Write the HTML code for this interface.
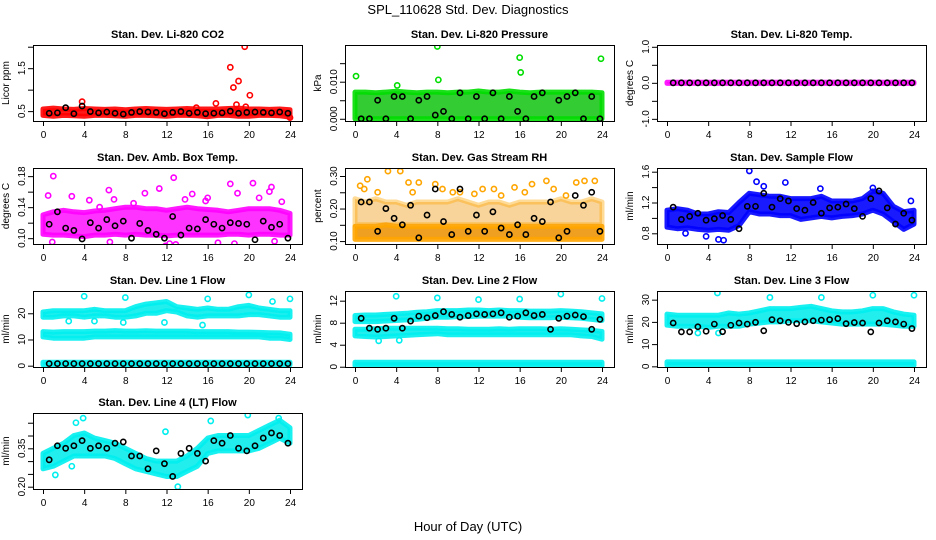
<!DOCTYPE html>
<html><head><meta charset="utf-8"><style>
html,body{margin:0;padding:0;background:#fff;}
svg{display:block;font-family:"Liberation Sans",sans-serif;}
</style></head><body>
<svg id="fig" width="936" height="540" viewBox="0 0 936 540">
<text x="468" y="14" text-anchor="middle" font-size="13">SPL_110628  Std. Dev. Diagnostics</text>
<text x="468" y="531" text-anchor="middle" font-size="13">Hour of Day (UTC)</text>
</svg>
<script>
const hours = [0,1,2,3,4,5,6,7,8,9,10,11,12,13,14,15,16,17,18,19,20,21,22,23,24];
const xTicks = [0,4,8,12,16,20,24];
const blackHours = [0.6,1.4,2.2,3.0,3.8,4.6,5.4,6.2,7.0,7.8,8.6,9.4,10.2,11.0,11.8,12.6,13.4,14.2,15.0,15.8,16.6,17.4,18.2,19.0,19.8,20.6,21.4,22.2,23.0,23.8];

// CO2
const co2Lo = [0.40,0.38,0.40,0.39,0.38,0.40,0.40,0.39,0.38,0.40,0.40,0.39,0.38,0.40,0.40,0.39,0.37,0.40,0.40,0.38,0.38,0.40,0.40,0.39,0.36];
const co2Hi = [0.55,0.57,0.55,0.54,0.56,0.55,0.54,0.55,0.53,0.55,0.56,0.55,0.54,0.55,0.56,0.55,0.55,0.55,0.56,0.57,0.55,0.55,0.54,0.55,0.53];
const co2Black = [0.45,0.46,0.58,0.44,0.62,0.49,0.46,0.48,0.45,0.43,0.47,0.49,0.48,0.47,0.44,0.47,0.49,0.45,0.47,0.44,0.45,0.46,0.50,0.45,0.47,0.48,0.47,0.46,0.48,0.45];
const co2OutX = [3.8,14.9,16.8,18.2,18.5,18.8,19.0,19.6,19.7,20.1,24.0];
const co2OutY = [0.72,0.58,0.68,1.52,1.05,0.65,1.20,2.00,0.60,0.87,0.35];
// Pressure
const presLo = [0,0,0,0,0,0,0,0,0,0,0,0,0,0,0,0,0,0,0,0,0,0,0,0,0];
const presHi = [0.0072,0.0072,0.0070,0.0072,0.0074,0.0072,0.0070,0.0072,0.0072,0.0070,0.0072,0.0072,0.0075,0.0072,0.0072,0.0075,0.0072,0.0070,0.0072,0.0072,0.0072,0.0072,0.0072,0.0072,0.0070];
const presBlack = [0.0,0.0,0.005,0.0,0.006,0.006,0.0,0.005,0.006,0.001,0.002,0.0,0.007,0.0,0.006,0.0,0.007,0.0,0.006,0.002,0.0,0.006,0.007,0.0,0.005,0.006,0.007,0.0,0.006,0.0];
const presOutX = [0.1,4.1,8.0,8.1,16.0,16.1,23.9];
const presOutY = [0.0115,0.009,0.0195,0.0105,0.0165,0.0125,0.0162];
// Temp
const tempLo = [-0.015,-0.015,-0.015,-0.015,-0.015,-0.015,-0.015,-0.015,-0.015,-0.015,-0.015,-0.015,-0.015,-0.015,-0.015,-0.015,-0.015,-0.015,-0.015,-0.015,-0.015,-0.015,-0.015,-0.015,-0.015];
const tempHi = [0.015,0.015,0.015,0.015,0.015,0.015,0.015,0.015,0.015,0.015,0.015,0.015,0.015,0.015,0.015,0.015,0.015,0.015,0.015,0.015,0.015,0.015,0.015,0.015,0.015];
const tempBlack = [0,0,0,0,0,0,0,0,0,0,0,0,0,0,0,0,0,0,0,0,0,0,0,0,0,0,0,0,0,0];
// Ambient box temp
const ambLo = [0.105,0.104,0.104,0.103,0.102,0.104,0.104,0.105,0.104,0.105,0.104,0.104,0.103,0.104,0.104,0.104,0.104,0.104,0.105,0.105,0.104,0.105,0.105,0.104,0.104];
const ambHi = [0.130,0.134,0.136,0.134,0.133,0.135,0.136,0.138,0.140,0.140,0.138,0.138,0.136,0.138,0.140,0.138,0.137,0.136,0.134,0.136,0.138,0.138,0.138,0.136,0.132];
const ambBlack = [0.118,0.134,0.113,0.110,0.099,0.120,0.113,0.124,0.116,0.122,0.100,0.119,0.110,0.105,0.100,0.128,0.104,0.113,0.112,0.124,0.118,0.113,0.120,0.119,0.118,0.098,0.122,0.114,0.118,0.100];
const ambOutX = [0.5,1.0,2.8,4.5,6.4,6.9,9.9,11.3,12.7,13.8,14.5,16.0,18.2,18.9,20.4,21.0,22.0,22.2,23.2,0.9,6.5,11.9,12.3,12.9,17.0,18.6,22.5,5.5,8.8,15.8];
const ambOutY = [0.155,0.180,0.154,0.149,0.162,0.150,0.158,0.164,0.178,0.150,0.157,0.152,0.170,0.158,0.171,0.152,0.160,0.166,0.147,0.095,0.095,0.090,0.093,0.092,0.094,0.093,0.096,0.140,0.145,0.148];
// Gas stream RH
const rhLo = [0.105,0.105,0.105,0.105,0.105,0.105,0.105,0.105,0.105,0.105,0.105,0.105,0.105,0.105,0.105,0.105,0.105,0.105,0.105,0.105,0.105,0.105,0.105,0.105,0.105];
const rhHi = [0.145,0.145,0.145,0.150,0.145,0.145,0.145,0.145,0.145,0.145,0.145,0.145,0.145,0.145,0.145,0.145,0.145,0.145,0.145,0.145,0.145,0.145,0.145,0.145,0.145];
const rhMidLo = [0.15,0.15,0.15,0.15,0.15,0.15,0.15,0.15,0.15,0.15,0.15,0.15,0.15,0.15,0.15,0.15,0.15,0.15,0.15,0.15,0.15,0.15,0.15,0.15,0.15];
const rhMidHi = [0.23,0.22,0.23,0.22,0.22,0.21,0.22,0.22,0.22,0.22,0.23,0.22,0.21,0.22,0.22,0.21,0.22,0.22,0.22,0.22,0.23,0.22,0.22,0.23,0.22];
const rhBlack = [0.22,0.22,0.13,0.20,0.17,0.15,0.21,0.11,0.18,0.26,0.16,0.12,0.26,0.13,0.18,0.13,0.19,0.14,0.12,0.15,0.12,0.17,0.16,0.22,0.11,0.13,0.24,0.21,0.25,0.13];
const rhOutX = [0.5,1.2,3.2,4.4,5.2,6.2,7.8,9.5,11.6,12.4,13.5,15.5,17.2,18.6,21.5,22.3,23.3,0.9,2.2,5.6,8.5,10.2,14.2,16.5,19.3,20.5];
const rhOutY = [0.27,0.29,0.315,0.315,0.28,0.28,0.275,0.25,0.245,0.26,0.26,0.265,0.275,0.285,0.28,0.285,0.285,0.26,0.25,0.25,0.26,0.25,0.24,0.25,0.26,0.24];
// Sample flow
const sfLo = [0.88,0.86,0.87,0.85,0.84,0.85,0.84,0.90,1.08,1.05,1.05,1.03,1.03,0.98,1.00,1.02,1.00,1.02,1.03,1.05,1.10,1.05,0.95,0.85,0.92];
const sfHi = [1.10,1.12,1.10,1.05,1.05,1.08,1.07,1.20,1.32,1.30,1.28,1.28,1.25,1.25,1.25,1.28,1.22,1.22,1.22,1.25,1.35,1.32,1.15,1.08,1.10];
const sfBlack = [1.14,0.98,1.02,1.06,0.97,0.99,1.03,0.98,0.86,1.15,1.15,1.32,1.14,1.25,1.22,1.12,1.10,1.20,1.06,1.13,1.14,1.18,1.12,1.02,1.25,1.35,1.13,0.92,1.06,0.97];
const sfOutX = [8.0,8.7,9.4,11.5,14.9,5.0,5.5,3.8,20.0,23.7,1.8];
const sfOutY = [1.61,1.47,1.41,1.46,1.38,0.72,0.71,0.76,1.39,1.22,0.80];
// Line 1
const l1aLo = [18.5,18.5,19,19,18.5,19,19,18.5,18.5,19,20,20,21,20.5,19,18.5,19,19,19,19,19.5,19.5,19,18.5,18.5];
const l1aHi = [20.5,21,21,21,21,21.5,21,21,21,22.5,23.5,24,24.5,22.5,22,21.5,22,21.5,21.5,22.5,23,22,21.5,21,21];
const l1bLo = [11,10.5,10.5,10.5,10.5,11,11,11,11,11,11,11,11,11,11,11,11,11,11,11,11,11,10.5,10.5,10];
const l1bHi = [13,12.8,13,13,13,13.2,13.2,13.4,13.2,13.2,13.3,13.2,13.2,13.2,13.2,13,13,13,13,12.8,12.8,12.7,12.6,12.5,12];
const l1cLo = [0.3,0.3,0.3,0.3,0.3,0.3,0.3,0.3,0.3,0.3,0.3,0.3,0.3,0.3,0.3,0.3,0.3,0.3,0.3,0.3,0.3,0.3,0.3,0.3,0.3];
const l1cHi = [1.3,1.3,1.3,1.3,1.3,1.3,1.3,1.3,1.3,1.3,1.3,1.3,1.3,1.3,1.3,1.3,1.3,1.3,1.3,1.3,1.3,1.3,1.3,1.3,1.3];
const l1Black = [0.8,0.8,0.8,0.8,0.8,0.8,0.8,0.8,0.8,0.8,0.8,0.8,0.8,0.8,0.8,0.8,0.8,0.8,0.8,0.8,0.8,0.8,0.8,0.8,0.8,0.8,0.8,0.8,0.8,0.8];
const l1OutX = [4,8,16,20,24,15.5,5,7.8,22.3,2.5,11.8];
const l1OutY = [26.5,26,25.5,27,25.5,15.5,17,16.5,24.5,17,16.5];
// Line 2
const l2aLo = [8.2,8.2,8.2,8.3,8.4,8.5,8.6,8.8,9.0,9.0,9.1,9.1,9.2,9.2,9.2,9.2,9.0,8.9,8.9,8.9,9.0,8.9,8.8,8.6,8.4];
const l2aHi = [9.3,9.4,9.4,9.5,9.6,9.7,9.9,10.0,10.2,10.2,10.2,10.3,10.3,10.2,10.3,10.2,10.2,10.1,10.1,10.1,10.2,10.1,10.0,9.8,9.6];
const l2bLo = [5.6,5.5,5.4,5.5,5.6,5.7,5.8,5.9,6.0,5.8,5.8,5.8,5.8,5.8,5.8,5.8,5.8,5.8,5.8,5.8,5.8,5.8,5.6,5.5,5.0];
const l2bHi = [6.8,6.8,6.9,7.0,7.0,7.0,7.0,7.0,7.0,6.9,6.9,6.8,6.8,6.8,6.9,6.8,6.9,6.9,6.9,6.8,6.9,6.8,6.7,6.6,6.4];
const l2cLo = [0.2,0.2,0.2,0.2,0.2,0.2,0.2,0.2,0.2,0.2,0.2,0.2,0.2,0.2,0.2,0.2,0.2,0.2,0.2,0.2,0.2,0.2,0.2,0.2,0.2];
const l2cHi = [0.8,0.8,0.8,0.8,0.8,0.8,0.8,0.8,0.8,0.8,0.8,0.8,0.8,0.8,0.8,0.8,0.8,0.8,0.8,0.8,0.8,0.8,0.8,0.8,0.8];
const l2Black = [8.8,7.0,6.8,7.0,8.8,7.0,8.3,9.2,8.9,9.3,10.0,9.5,9.0,9.3,9.6,9.5,9.6,9.8,9.0,9.2,9.8,9.3,9.5,6.8,8.8,9.2,9.4,9.1,6.8,8.6];
const l2OutX = [4,8,12,16,20,24,2.3,4.3];
const l2OutY = [12.8,12.5,12.2,12.3,13.2,12.4,4.7,4.8];
// Line 3
const l3aLo = [18.5,18,18,18,17.5,18,18,18,19,19.5,20,20,20.5,20.5,20.5,20,19.5,19,19,19,19,19,18.5,18,18];
const l3aHi = [23.5,23,23,23,23,23,24,23.5,24,25,26,26,26,26.5,27,26,25,24.5,24.5,25,26,26,24.5,23.5,23];
const l3cLo = [0.5,0.5,0.5,0.5,0.5,0.5,0.5,0.5,0.5,0.5,0.5,0.5,0.5,0.5,0.5,0.5,0.5,0.5,0.5,0.5,0.5,0.5,0.5,0.5,0.5];
const l3cHi = [2,2,2,2,2,2,2,2,2,2,2,2,2,2,2,2,2,2,2,2,2,2,2,2,2];
const l3Black = [19.5,15.5,15.5,17.8,15.8,19,15.6,18.5,19.5,19.0,19.8,16.0,21,20.5,19.8,19.2,20.0,20.5,20.8,21.0,21.5,19.2,19.7,19.5,15.5,19.5,20.5,20.0,19.0,17.0];
const l3OutX = [4.9,10,15,20,24,5,3];
const l3OutY = [33,31,31,32,32,15,15];
// Line 4
const l4Lo = [0.27,0.28,0.30,0.32,0.32,0.32,0.32,0.31,0.29,0.27,0.26,0.25,0.24,0.24,0.26,0.28,0.33,0.34,0.34,0.34,0.34,0.35,0.37,0.39,0.37];
const l4Hi = [0.33,0.35,0.37,0.40,0.41,0.39,0.38,0.37,0.35,0.33,0.31,0.30,0.30,0.30,0.32,0.35,0.39,0.40,0.40,0.40,0.40,0.42,0.44,0.46,0.43];
const l4Black = [0.305,0.36,0.35,0.36,0.38,0.35,0.36,0.35,0.37,0.375,0.32,0.32,0.27,0.34,0.29,0.24,0.33,0.35,0.33,0.30,0.38,0.37,0.40,0.35,0.34,0.36,0.39,0.41,0.40,0.37];
const l4OutX = [3.9,3.2,11.9,13.1,16.3,19.9,1.2,2.8,22.9];
const l4OutY = [0.468,0.45,0.415,0.20,0.457,0.48,0.246,0.28,0.468];

const NS = 'http://www.w3.org/2000/svg';
const svg = document.getElementById('fig');
function mk(tag, attrs, parent){
  const e = document.createElementNS(NS, tag);
  for (const k in attrs) e.setAttribute(k, attrs[k]);
  (parent||svg).appendChild(e);
  return e;
}

const panels = [
 {title:'Stan. Dev. Li-820 CO2', ylab:'Licor ppm', col:0,row:0, ymin:0.27,ymax:2.04, ticks:[0.5,1.0,1.5,2.0], labels:['0.5','','1.5',''], color:'#ff0000', fill:'#ff1a1a',
  bands:[[co2Lo,co2Hi,1]], black:co2Black, outX:co2OutX, outY:co2OutY},
 {title:'Stan. Dev. Li-820 Pressure', ylab:'kPa', col:1,row:0, ymin:-0.0006,ymax:0.0199, ticks:[0,0.005,0.010,0.015], labels:['0.000','','0.010',''], color:'#00dd00', fill:'#33cc33',
  bands:[[presLo,presHi,1]], black:presBlack, outX:presOutX, outY:presOutY},
 {title:'Stan. Dev. Li-820 Temp.', ylab:'degrees C', col:2,row:0, ymin:-1.06,ymax:1.05, ticks:[-1,-0.5,0,0.5,1], labels:['-1.0','','0.0','','1.0'], color:'#ff00ff', fill:'#ff00ff',
  bands:[[tempLo,tempHi,1]], black:tempBlack, outX:[], outY:[]},
 {title:'Stan. Dev. Amb. Box Temp.', ylab:'degrees C', col:0,row:1, ymin:0.0925,ymax:0.1905, ticks:[0.10,0.12,0.14,0.16,0.18], labels:['0.10','','0.14','','0.18'], color:'#ff00ff', fill:'#ff33ff',
  bands:[[ambLo,ambHi,1]], black:ambBlack, outX:ambOutX, outY:ambOutY},
 {title:'Stan. Dev. Gas Stream RH', ylab:'percent', col:1,row:1, ymin:0.091,ymax:0.3246, ticks:[0.10,0.15,0.20,0.25,0.30], labels:['0.10','','0.20','','0.30'], color:'#ffa500', fill:'#f0a020',
  bands:[[rhLo,rhHi,1],[rhMidLo,rhMidHi,0.45]], black:rhBlack, outX:rhOutX, outY:rhOutY},
 {title:'Stan. Dev. Sample Flow', ylab:'ml/min', col:2,row:1, ymin:0.661,ymax:1.648, ticks:[0.8,1.0,1.2,1.4,1.6], labels:['0.8','','1.2','','1.6'], color:'#0000ff', fill:'#1a1aff',
  bands:[[sfLo,sfHi,1]], black:sfBlack, outX:sfOutX, outY:sfOutY},
 {title:'Stan. Dev. Line 1 Flow', ylab:'ml/min', col:0,row:2, ymin:-0.5,ymax:28.5, ticks:[0,10,20], labels:['0','10','20'], color:'#00eeee', fill:'#22eeee',
  bands:[[l1aLo,l1aHi,1],[l1bLo,l1bHi,1],[l1cLo,l1cHi,1]], black:l1Black, outX:l1OutX, outY:l1OutY},
 {title:'Stan. Dev. Line 2 Flow', ylab:'ml/min', col:1,row:2, ymin:-0.05,ymax:13.76, ticks:[0,4,8,12], labels:['0','4','8','12'], color:'#00eeee', fill:'#22eeee',
  bands:[[l2aLo,l2aHi,1],[l2bLo,l2bHi,1],[l2cLo,l2cHi,1]], black:l2Black, outX:l2OutX, outY:l2OutY},
 {title:'Stan. Dev. Line 3 Flow', ylab:'ml/min', col:2,row:2, ymin:-0.3,ymax:33.9, ticks:[0,10,20,30], labels:['0','10','20','30'], color:'#00eeee', fill:'#22eeee',
  bands:[[l3aLo,l3aHi,1],[l3cLo,l3cHi,1]], black:l3Black, outX:l3OutX, outY:l3OutY},
 {title:'Stan. Dev. Line 4 (LT) Flow', ylab:'ml/min', col:0,row:3, ymin:0.191,ymax:0.488, ticks:[0.20,0.25,0.30,0.35,0.40,0.45], labels:['0.20','','','0.35','',''], color:'#00eeee', fill:'#22eeee',
  bands:[[l4Lo,l4Hi,1]], black:l4Black, outX:l4OutX, outY:l4OutY},
];

const colLeft = [33,345,657];
const rowTop = [45,168,291,413];
const W = 269, H = 76;

panels.forEach((p, idx) => {
  const L = colLeft[p.col], T = rowTop[p.row], R = L+W, B = T+H;
  const sx = v => L + 10 + v*(247/24);
  const sy = v => B - (v - p.ymin)/(p.ymax - p.ymin)*H;
  const slug = p.title.toLowerCase().replace('stan. dev. ','').replace(/[^a-z0-9]+/g,'-').replace(/-+$/,'');
  const g = mk('g', {});
  
  
  const clipId = 'clip' + idx;
  const cp = mk('clipPath', {id: clipId}, g);
  mk('rect', {x:L, y:T, width:W, height:H}, cp);
  const plot = mk('g', {'clip-path':'url(#'+clipId+')'}, g);
  
  
  // bands (dense point clouds)
  p.bands.forEach(b => {
    const lo = b[0], hi = b[1];
    let d = '';
    hours.forEach((h,i) => { d += (i?'L':'M') + sx(h).toFixed(1) + ' ' + sy(hi[i]).toFixed(1); });
    for (let i = hours.length-1; i >= 0; i--) d += 'L' + sx(hours[i]).toFixed(1) + ' ' + sy(lo[i]).toFixed(1);
    const path = mk('path', {d: d+'Z', fill: p.fill, 'fill-opacity': b[2], stroke: p.color, 'stroke-width': 5, 'stroke-opacity': b[2]*0.9, 'stroke-linejoin':'round'}, plot);
    
    
  });
  // outlier points
  p.outX.forEach((xv,i) => {
    const c = mk('circle', {cx: sx(xv), cy: sy(p.outY[i]), r: 2.6, fill: 'none', stroke: p.color, 'stroke-width': 1.6}, plot);
    
    
  });
  // black points
  blackHours.forEach((xv,i) => {
    const c = mk('circle', {cx: sx(xv), cy: sy(p.black[i]), r: 2.6, fill: 'none', stroke: '#000', 'stroke-width': 1.6}, plot);
    
    
  });
  // box
  const box = mk('rect', {x:L+0.5, y:T+0.5, width:W, height:H, fill:'none', stroke:'#000', 'stroke-width':1}, g);
  
  
  // title
  const t = mk('text', {x: L+W/2, y: T-7, 'text-anchor':'middle', 'font-size':11, 'font-weight':'bold'}, g);
  t.textContent = p.title;
  
  
  // x axis
  const xa = mk('g', {}, g);
  
  
  mk('line', {x1: sx(0), x2: sx(24), y1: B+0.5, y2: B+0.5, stroke:'#000'}, xa);
  xTicks.forEach(v => {
    mk('line', {x1: sx(v)+0.5, x2: sx(v)+0.5, y1: B, y2: B+5, stroke:'#000'}, xa);
    const tl = mk('text', {x: sx(v)+0.5, y: B+17, 'text-anchor':'middle', 'font-size':10}, xa);
    tl.textContent = v;
    
    
  });
  // y axis
  const ya = mk('g', {}, g);
  
  
  mk('line', {x1: L+0.5, x2: L+0.5, y1: sy(p.ticks[0]), y2: sy(p.ticks[p.ticks.length-1]), stroke:'#000'}, ya);
  p.ticks.forEach((v,i) => {
    const yy = sy(v);
    mk('line', {x1: L-5, x2: L, y1: yy+0.5, y2: yy+0.5, stroke:'#000'}, ya);
    if (p.labels[i]) {
      const tl = mk('text', {x: L-8, y: yy, 'text-anchor':'middle', 'font-size':10, transform:'rotate(-90 '+(L-8)+' '+yy+')'}, ya);
      tl.textContent = p.labels[i];
      
      
    }
  });
  const yl = mk('text', {x: L-24, y: T+H/2, 'text-anchor':'middle', 'font-size':10, transform:'rotate(-90 '+(L-24)+' '+(T+H/2)+')'}, g);
  yl.textContent = p.ylab;
  
  
});
</script>
</body></html>
